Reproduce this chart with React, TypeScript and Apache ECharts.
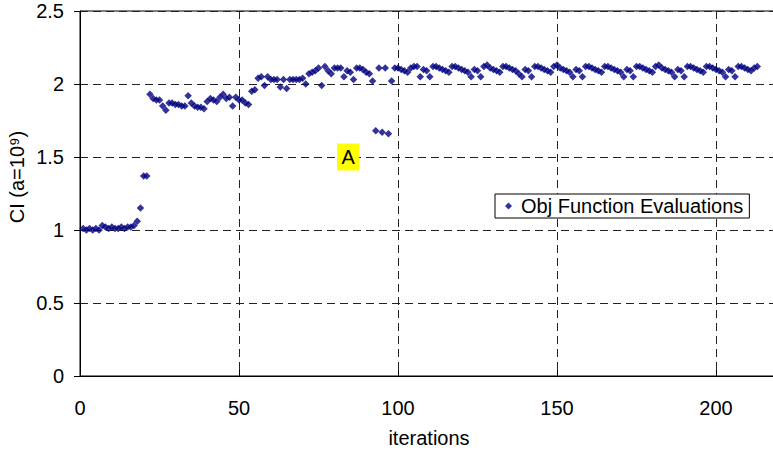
import React, { useEffect, useRef } from "react";
import * as echarts from "echarts";

// CI value of each objective-function evaluation, iteration 1 onward
const ciValues: number[] = [
  1.01, 1.0, 1.01, 1.0, 1.01, 1.0, 1.03, 1.02, 1.01, 1.02,
  1.01, 1.01, 1.02, 1.01, 1.02, 1.02, 1.03, 1.06, 1.15, 1.37,
  1.37, 1.93, 1.9, 1.89, 1.89, 1.85, 1.82, 1.87, 1.87, 1.86,
  1.86, 1.85, 1.85, 1.92, 1.87, 1.85, 1.84, 1.84, 1.83, 1.88,
  1.9, 1.89, 1.88, 1.91, 1.93, 1.9, 1.91, 1.85, 1.91, 1.89,
  1.89, 1.87, 1.86, 1.95, 1.96, 2.04, 2.05, 1.99, 2.05, 2.03,
  2.03, 2.03, 1.98, 2.03, 1.97, 2.03, 2.03, 2.03, 2.03, 2.04,
  2.0, 2.07, 2.08, 2.09, 2.11, 1.99, 2.12, 2.09, 2.07, 2.11,
  2.11, 2.11, 2.05, 2.09, 2.08, 2.03, 2.11, 2.11, 2.1, 2.08,
  2.07, 2.02, 1.68, 2.11, 1.67, 2.11, 1.66, 2.02, 2.11, 2.11,
  2.1, 2.09, 2.08, 2.11, 2.12, 2.12, 2.05, 2.1, 2.09, 2.05,
  2.12, 2.12, 2.11, 2.1, 2.09, 2.08, 2.12, 2.12, 2.11, 2.1,
  2.09, 2.08, 2.05, 2.1, 2.09, 2.05, 2.12, 2.13, 2.11, 2.1,
  2.09, 2.08, 2.12, 2.12, 2.11, 2.1, 2.09, 2.07, 2.05, 2.1,
  2.09, 2.05, 2.12, 2.12, 2.11, 2.1, 2.09, 2.08, 2.12, 2.13,
  2.11, 2.1, 2.09, 2.08, 2.05, 2.1, 2.09, 2.05, 2.12, 2.12,
  2.11, 2.1, 2.09, 2.08, 2.12, 2.12, 2.11, 2.1, 2.09, 2.08,
  2.05, 2.1, 2.09, 2.05, 2.12, 2.12, 2.11, 2.1, 2.09, 2.08,
  2.12, 2.13, 2.11, 2.1, 2.09, 2.08, 2.05, 2.1, 2.09, 2.05,
  2.12, 2.12, 2.11, 2.1, 2.09, 2.08, 2.12, 2.12, 2.11, 2.1,
  2.09, 2.08, 2.05, 2.1, 2.09, 2.05, 2.12, 2.12, 2.11, 2.1,
  2.09, 2.11, 2.12,
];

const seriesName = "Obj Function Evaluations";
const xTitle = "iterations";
const yTitle = "CI (a=10\u2079)";
const noteLabel = "A";
const notePoint: [number, number] = [84.3, 1.5];

const FONT = "'Liberation Sans', Arial, sans-serif";

export default function App() {
  const ref = useRef<HTMLDivElement>(null);

  useEffect(() => {
    if (!ref.current) return;
    const chart = echarts.init(ref.current, undefined, { renderer: "svg" });
    const points = ciValues.map((v, i) => [i + 1, v]);

    chart.setOption({
      animation: false,
      backgroundColor: "#ffffff",
      textStyle: { fontFamily: FONT },
      grid: {
        left: 80,
        top: 11,
        width: 795,
        height: 365,
        containLabel: false,
        outerBoundsMode: "none",
        show: true,
        borderColor: "#000",
        borderWidth: 1,
        backgroundColor: "transparent",
      },
      xAxis: {
        type: "value",
        min: 0,
        max: 250,
        interval: 50,
        axisLine: { lineStyle: { color: "#000", width: 1 } },
        axisTick: { inside: true, length: 6, lineStyle: { color: "#000" } },
        axisLabel: {
          color: "#000",
          fontSize: 20,
          margin: 22,
          fontFamily: FONT,
          showMaxLabel: false,
        },
        splitLine: { lineStyle: { color: "#222", type: [8, 5], width: 1 } },
      },
      yAxis: {
        type: "value",
        min: 0,
        max: 2.5,
        interval: 0.5,
        axisLine: { show: true, lineStyle: { color: "#000", width: 1 } },
        axisTick: { show: true, length: 6, lineStyle: { color: "#000" } },
        axisLabel: { color: "#000", fontSize: 20, margin: 16, fontFamily: FONT },
        splitLine: { lineStyle: { color: "#222", type: [8, 5], width: 1 } },
      },
      legend: {
        left: 495,
        top: 194,
        icon: "diamond",
        itemWidth: 7,
        itemHeight: 7,
        padding: [2, 6, 2, 10],
        borderColor: "#000",
        borderWidth: 1,
        backgroundColor: "#fff",
        textStyle: { fontSize: 20, color: "#000", fontFamily: FONT, padding: [0, 0, 0, 4] },
        data: [seriesName],
      },
      series: [
        {
          name: seriesName,
          type: "scatter",
          symbol: "diamond",
          symbolSize: 7.5,
          itemStyle: { color: "#000080" },
          data: points,
          markPoint: {
            silent: true,
            symbol: "rect",
            symbolSize: [22, 27],
            itemStyle: { color: "#ffff00" },
            label: {
              show: true,
              position: "inside",
              formatter: noteLabel,
              color: "#000",
              fontSize: 20,
              fontFamily: FONT,
            },
            data: [{ coord: notePoint }],
          },
        },
      ],
      graphic: [
        {
          type: "text",
          x: 429,
          y: 438,
          style: {
            text: xTitle,
            fontSize: 20,
            fontFamily: FONT,
            fill: "#000",
            textAlign: "center",
            textVerticalAlign: "middle",
          },
        },
        {
          type: "text",
          x: 17,
          y: 177,
          rotation: Math.PI / 2,
          style: {
            text: yTitle,
            fontSize: 20,
            fontFamily: FONT,
            fill: "#000",
            textAlign: "center",
            textVerticalAlign: "middle",
          },
        },
      ],
    });

    return () => chart.dispose();
  }, []);

  return (
    <div
      ref={ref}
      style={{ position: "fixed", left: 0, top: 0, width: 773, height: 450 }}
    />
  );
}
